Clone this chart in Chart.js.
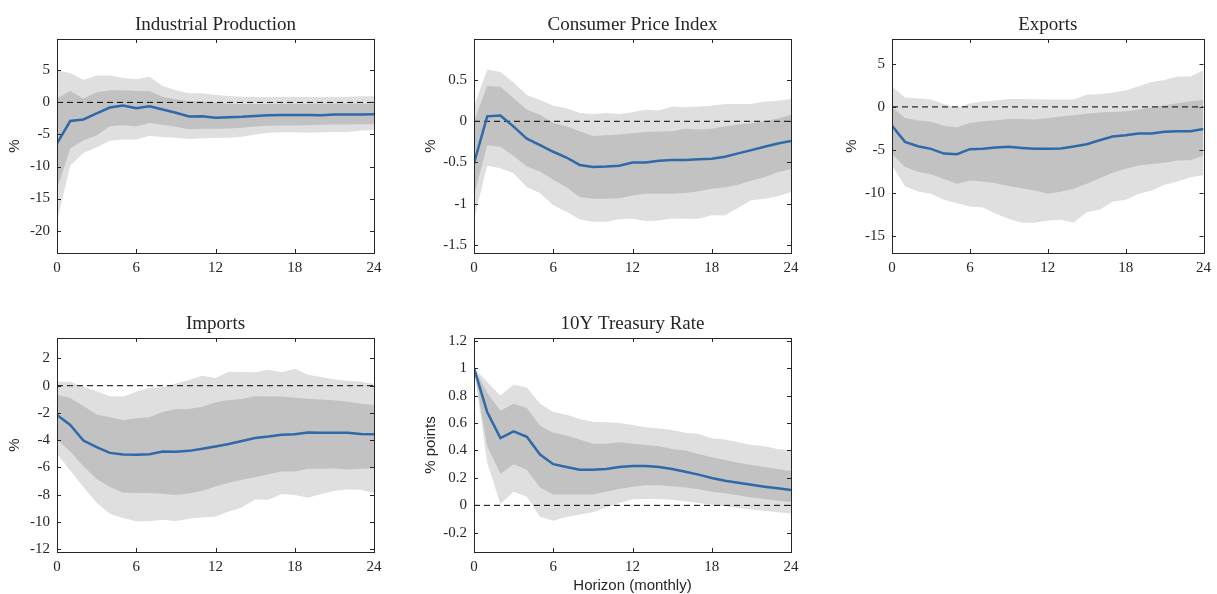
<!DOCTYPE html>
<html>
<head>
<meta charset="utf-8">
<script src="https://cdn.jsdelivr.net/npm/chart.js@4.4.0/dist/chart.umd.min.js"></script>
<style>
body { margin: 0; background: #fff; width: 1217px; height: 594px; position: relative; overflow: hidden; }
canvas { position: absolute; }
</style>
</head>
<body>
<canvas id="c1" width="400" height="290" style="left:0px;top:0px"></canvas>
<canvas id="c2" width="400" height="290" style="left:410px;top:0px"></canvas>
<canvas id="c3" width="397" height="290" style="left:820px;top:0px"></canvas>
<canvas id="c4" width="400" height="295" style="left:0px;top:299px"></canvas>
<canvas id="c5" width="400" height="295" style="left:410px;top:299px"></canvas>
<script>
// horizon 0..24 months
const months = [0,1,2,3,4,5,6,7,8,9,10,11,12,13,14,15,16,17,18,19,20,21,22,23,24];
const xTicks = [0, 6, 12, 18, 24];

// Industrial Production
const ipLine = [-6.4,-2.9,-2.65,-1.7,-0.8,-0.5,-0.9,-0.6,-1.1,-1.6,-2.2,-2.15,-2.4,-2.3,-2.25,-2.1,-2.0,-1.95,-1.95,-1.95,-2.0,-1.9,-1.9,-1.9,-1.85];
const ipUp90 = [5.0,4.6,3.5,4.2,4.2,3.8,3.6,4.0,2.55,1.9,1.45,1.45,1.15,1.0,0.9,0.85,0.85,0.85,0.9,0.85,0.85,0.85,0.9,0.95,0.95];
const ipUp68 = [0.6,1.8,0.6,1.6,1.9,1.9,1.8,1.8,0.9,0.5,0.2,0.15,-0.05,-0.2,-0.25,-0.25,-0.25,-0.2,-0.2,-0.2,-0.2,-0.15,-0.15,-0.15,-0.15];
const ipLo68 = [-13.5,-7.2,-5.9,-5.15,-3.7,-3.55,-3.7,-3.2,-3.5,-3.8,-4.2,-4.1,-4.1,-4.05,-3.95,-3.75,-3.65,-3.6,-3.6,-3.55,-3.5,-3.45,-3.45,-3.4,-3.4];
const ipLo90 = [-18.6,-9.9,-7.9,-7.0,-6.0,-5.8,-5.8,-5.2,-5.4,-5.5,-5.7,-5.6,-5.55,-5.5,-5.35,-5.0,-4.75,-4.65,-4.65,-4.75,-4.65,-4.6,-4.6,-4.4,-4.3];
const ipTicks = [-20, -15, -10, -5, 0, 5];

// Consumer Price Index
const cpiLine = [-0.51,0.06,0.07,-0.065,-0.21,-0.29,-0.37,-0.44,-0.53,-0.556,-0.55,-0.54,-0.5,-0.5,-0.48,-0.47,-0.47,-0.46,-0.455,-0.43,-0.39,-0.35,-0.31,-0.27,-0.24];
const cpiUp90 = [0.18,0.63,0.6,0.47,0.32,0.26,0.19,0.16,0.1,0.09,0.1,0.09,0.11,0.14,0.13,0.18,0.17,0.18,0.19,0.21,0.21,0.21,0.24,0.25,0.27];
const cpiUp68 = [0.0,0.43,0.42,0.28,0.14,0.08,-0.02,-0.06,-0.12,-0.18,-0.17,-0.16,-0.145,-0.13,-0.125,-0.12,-0.09,-0.1,-0.09,-0.06,-0.04,-0.025,0.0,0.035,0.08];
const cpiLo68 = [-0.91,-0.29,-0.31,-0.42,-0.55,-0.61,-0.71,-0.8,-0.92,-0.94,-0.94,-0.935,-0.9,-0.88,-0.88,-0.88,-0.87,-0.85,-0.82,-0.8,-0.77,-0.72,-0.68,-0.62,-0.58];
const cpiLo90 = [-1.19,-0.54,-0.57,-0.63,-0.8,-0.87,-1.02,-1.1,-1.19,-1.22,-1.22,-1.19,-1.185,-1.21,-1.205,-1.18,-1.185,-1.185,-1.14,-1.145,-1.05,-0.96,-0.94,-0.91,-0.86];
const cpiTicks = [-1.5, -1, -0.5, 0, 0.5];

// Exports
const exLine = [-2.2,-4.07,-4.57,-4.88,-5.43,-5.5,-4.92,-4.88,-4.73,-4.65,-4.77,-4.88,-4.88,-4.85,-4.6,-4.34,-3.88,-3.45,-3.3,-3.1,-3.1,-2.9,-2.83,-2.83,-2.56];
const exUp90 = [2.36,1.08,0.97,0.85,0.35,-0.08,0.39,0.62,0.74,0.93,0.93,0.9,0.85,0.85,0.85,1.4,1.47,1.67,1.9,2.4,2.9,3.14,3.53,3.53,4.26];
const exUp68 = [-0.04,-1.28,-1.59,-1.74,-2.2,-2.36,-1.86,-1.67,-1.55,-1.4,-1.4,-1.47,-1.32,-1.12,-0.97,-0.81,-0.66,-0.58,-0.5,-0.31,-0.04,0.19,0.43,0.66,0.81];
const exLo68 = [-5.47,-7.0,-7.56,-7.83,-8.4,-8.95,-8.57,-8.68,-8.88,-9.19,-9.46,-9.73,-10.12,-9.88,-9.53,-8.95,-8.29,-7.67,-7.2,-6.82,-6.63,-6.51,-6.24,-6.2,-5.66];
const exLo90 = [-6.82,-9.22,-9.84,-10.12,-10.81,-11.2,-11.59,-11.7,-12.44,-13.02,-13.49,-13.49,-13.22,-13.14,-13.45,-12.25,-11.98,-11.05,-10.81,-10.12,-9.73,-9.07,-8.68,-8.18,-7.91];
const exTicks = [-15, -10, -5, 0, 5];

// Imports
const imLine = [-2.15,-2.88,-4.02,-4.51,-4.93,-5.05,-5.07,-5.02,-4.83,-4.85,-4.78,-4.63,-4.46,-4.27,-4.05,-3.83,-3.73,-3.59,-3.56,-3.44,-3.46,-3.46,-3.46,-3.54,-3.56];
const imUp90 = [0.29,0.29,-0.07,-0.41,-0.78,-0.8,-0.44,-0.15,-0.1,0.17,0.41,0.73,0.56,1.02,1.0,0.98,1.17,0.98,1.24,0.8,0.63,0.46,0.37,0.29,0.12];
const imUp68 = [-0.66,-0.9,-1.49,-2.12,-2.32,-2.51,-2.39,-2.32,-1.93,-1.71,-1.71,-1.54,-1.22,-1.05,-0.98,-0.78,-0.8,-0.8,-0.88,-0.95,-1.02,-1.07,-1.17,-1.32,-1.41];
const imLo68 = [-3.95,-4.83,-5.9,-6.85,-7.44,-7.85,-7.88,-7.88,-7.93,-8.02,-7.9,-7.71,-7.39,-7.12,-6.9,-6.71,-6.49,-6.29,-6.29,-6.1,-6.1,-6.07,-6.15,-6.1,-6.05];
const imLo90 = [-5.0,-6.22,-7.44,-8.59,-9.39,-9.71,-9.95,-9.95,-9.83,-9.93,-9.76,-9.66,-9.59,-9.22,-8.93,-8.34,-8.37,-7.95,-8.02,-8.22,-7.95,-7.71,-7.61,-7.63,-7.88];
const imTicks = [-12, -10, -8, -6, -4, -2, 0, 2];

// 10Y Treasury Rate
const tyLine = [1.0,0.68,0.49,0.54,0.5,0.37,0.3,0.28,0.26,0.26,0.265,0.28,0.287,0.287,0.28,0.265,0.245,0.224,0.2,0.18,0.165,0.15,0.136,0.124,0.112];
const tyUp90 = [1.0,0.9,0.8,0.88,0.86,0.74,0.68,0.66,0.63,0.61,0.605,0.6,0.585,0.57,0.56,0.55,0.53,0.52,0.49,0.48,0.46,0.44,0.43,0.41,0.4];
const tyUp68 = [1.0,0.82,0.69,0.74,0.71,0.58,0.53,0.51,0.48,0.45,0.45,0.46,0.45,0.44,0.43,0.41,0.4,0.375,0.35,0.33,0.31,0.295,0.28,0.265,0.25];
const tyLo68 = [1.0,0.43,0.23,0.3,0.26,0.13,0.08,0.08,0.08,0.08,0.1,0.12,0.135,0.146,0.146,0.14,0.13,0.117,0.1,0.088,0.073,0.058,0.046,0.034,0.024];
const tyLo90 = [1.0,0.31,0.01,0.1,0.063,-0.083,-0.112,-0.085,-0.066,-0.05,-0.015,0.017,0.044,0.046,0.046,0.04,0.03,0.017,0.005,-0.007,-0.02,-0.03,-0.04,-0.05,-0.06];
const tyTicks = [-0.2, 0, 0.2, 0.4, 0.6, 0.8, 1, 1.2];

const zeros = months.map(() => 0);

const axisColor = '#262626';
const serif = "'Liberation Serif', 'Times New Roman', serif";
const sans = "'Liberation Sans', Arial, sans-serif";

// matlab style box with inward ticks
const boxTicks = {
    id: 'boxTicks',
    afterDraw(chart) {
        const {ctx, chartArea: a, scales: {x, y}} = chart;
        ctx.save();
        ctx.strokeStyle = axisColor;
        ctx.lineWidth = 1;
        ctx.beginPath();
        x.ticks.forEach(t => {
            const px = Math.round(x.getPixelForValue(t.value)) + 0.5;
            ctx.moveTo(px, a.bottom); ctx.lineTo(px, a.bottom - 4);
            ctx.moveTo(px, a.top); ctx.lineTo(px, a.top + 4);
        });
        y.ticks.forEach(t => {
            const py = Math.round(y.getPixelForValue(t.value)) + 0.5;
            ctx.moveTo(a.left, py); ctx.lineTo(a.left + 4, py);
            ctx.moveTo(a.right, py); ctx.lineTo(a.right - 4, py);
        });
        ctx.stroke();
        ctx.strokeRect(Math.round(a.left) + 0.5, Math.round(a.top) + 0.5,
            Math.round(a.right) - Math.round(a.left), Math.round(a.bottom) - Math.round(a.top));
        ctx.restore();
    }
};

function panel(id, p) {
    const ctx = document.getElementById(id).getContext('2d');
    new Chart(ctx, {
        type: 'line',
        data: {
            labels: months,
            datasets: [
                { data: p.line, borderColor: '#2f69a8', borderWidth: 2.5, pointRadius: 0, fill: false, tension: 0 },
                { data: zeros, borderColor: '#000', borderWidth: 1, borderDash: [6, 4], pointRadius: 0, fill: false },
                { data: p.up68, borderWidth: 0, pointRadius: 0, backgroundColor: '#c2c2c2', fill: '+1' },
                { data: p.lo68, borderWidth: 0, pointRadius: 0, fill: false },
                { data: p.up90, borderWidth: 0, pointRadius: 0, backgroundColor: '#dfdfdf', fill: '+1' },
                { data: p.lo90, borderWidth: 0, pointRadius: 0, fill: false }
            ]
        },
        options: {
            responsive: false,
            animation: false,
            events: [],
            layout: { padding: { left: 0, right: p.right, top: 0, bottom: 0 } },
            plugins: {
                legend: { display: false },
                tooltip: { enabled: false },
                title: {
                    display: true,
                    text: p.title,
                    fullSize: false,
                    color: axisColor,
                    font: { family: serif, size: 19, weight: 'normal', lineHeight: 1 },
                    padding: { top: 15.5, bottom: 4.5 }
                }
            },
            scales: {
                x: {
                    type: 'linear',
                    min: 0,
                    max: 24,
                    grid: { display: false, drawTicks: false },
                    border: { display: false },
                    afterBuildTicks: s => { s.ticks = xTicks.map(v => ({ value: v })); },
                    afterFit: s => { s.height = p.xHeight; },
                    ticks: { color: axisColor, padding: 6, maxRotation: 0, font: { family: serif, size: 15 } },
                    title: {
                        display: !!p.xTitle,
                        text: p.xTitle || '',
                        color: axisColor,
                        font: { family: sans, size: 15, lineHeight: 1 },
                        padding: { top: 0, bottom: 0.5 }
                    }
                },
                y: {
                    min: p.min,
                    max: p.max,
                    grid: { display: false, drawTicks: false },
                    border: { display: false },
                    afterBuildTicks: s => { s.ticks = p.ticks.map(v => ({ value: v })); },
                    afterFit: s => { s.width = p.yWidth; },
                    ticks: {
                        color: axisColor,
                        padding: 7,
                        font: { family: serif, size: 15 },
                        callback: v => String(v)
                    },
                    title: {
                        display: true,
                        text: p.yTitle,
                        color: axisColor,
                        font: { family: sans, size: 15, lineHeight: 1.2 },
                        padding: { top: p.yTitlePad, bottom: 0 }
                    }
                }
            }
        },
        plugins: [boxTicks]
    });
}

panel('c1', { title: 'Industrial Production', yTitle: '%', line: ipLine, up90: ipUp90, up68: ipUp68, lo68: ipLo68, lo90: ipLo90,
    ticks: ipTicks, min: -23.5, max: 9.9, yWidth: 57, yTitlePad: 6, right: 26, xHeight: 37 });
panel('c2', { title: 'Consumer Price Index', yTitle: '%', line: cpiLine, up90: cpiUp90, up68: cpiUp68, lo68: cpiLo68, lo90: cpiLo90,
    ticks: cpiTicks, min: -1.6, max: 1.0, yWidth: 64, yTitlePad: 12, right: 19, xHeight: 37 });
panel('c3', { title: 'Exports', yTitle: '%', line: exLine, up90: exUp90, up68: exUp68, lo68: exLo68, lo90: exLo90,
    ticks: exTicks, min: -17, max: 7.9, yWidth: 72, yTitlePad: 23, right: 7, xHeight: 37 });
panel('c4', { title: 'Imports', yTitle: '%', line: imLine, up90: imUp90, up68: imUp68, lo68: imLo68, lo90: imLo90,
    ticks: imTicks, min: -12.2, max: 3.5, yWidth: 57, yTitlePad: 6, right: 26, xHeight: 42 });
panel('c5', { title: '10Y Treasury Rate', yTitle: '% points', line: tyLine, up90: tyUp90, up68: tyUp68, lo68: tyLo68, lo90: tyLo90,
    ticks: tyTicks, min: -0.34, max: 1.22, yWidth: 64, yTitlePad: 12, right: 19, xHeight: 42, xTitle: 'Horizon (monthly)' });
</script>
</body>
</html>
